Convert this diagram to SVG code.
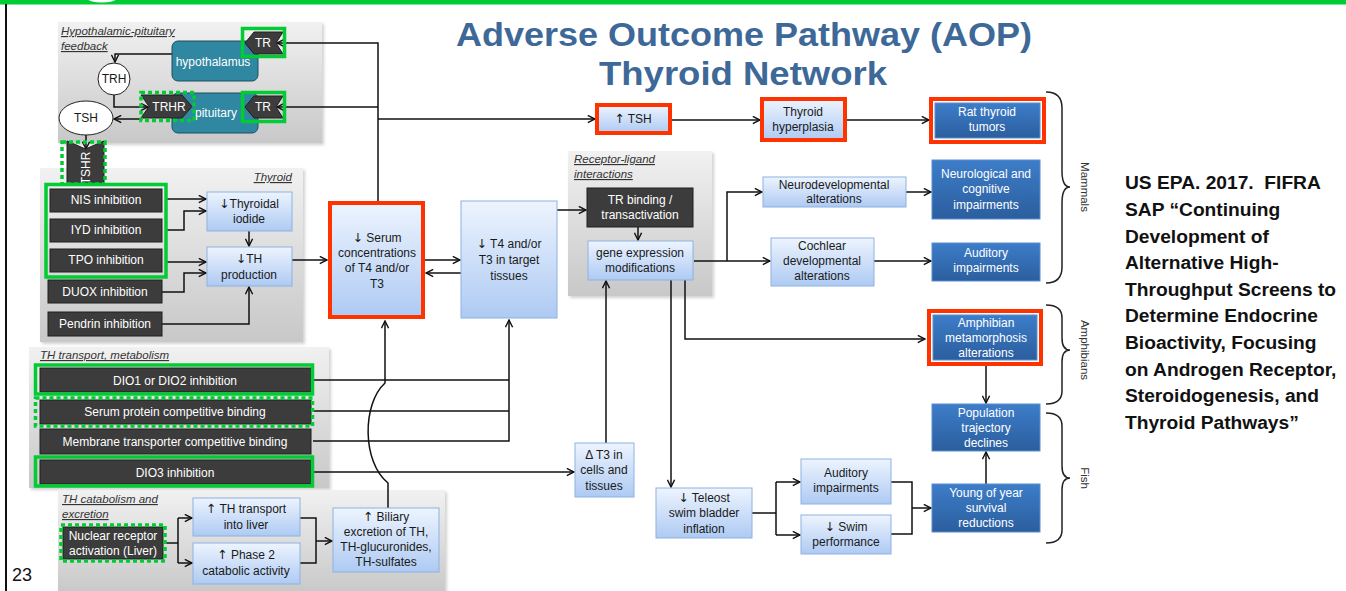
<svg xmlns="http://www.w3.org/2000/svg" width="1346" height="591" viewBox="0 0 1346 591">
  <defs>
    <linearGradient id="gLB" x1="0" y1="0" x2="0" y2="1">
      <stop offset="0" stop-color="#edf4fe"/>
      <stop offset="1" stop-color="#aecaf3"/>
    </linearGradient>
    <linearGradient id="gDB" x1="0" y1="0" x2="0" y2="1">
      <stop offset="0" stop-color="#3d7dc9"/>
      <stop offset="1" stop-color="#2b5e9e"/>
    </linearGradient>
    <linearGradient id="gPanel" x1="0" y1="0" x2="0" y2="1">
      <stop offset="0" stop-color="#f1f1f1"/>
      <stop offset="1" stop-color="#c8c8c8"/>
    </linearGradient>
    <filter id="shadow" x="-5%" y="-5%" width="115%" height="115%">
      <feDropShadow dx="2" dy="2" stdDeviation="1.5" flood-color="#000" flood-opacity="0.18"/>
    </filter>
    <marker id="ah" viewBox="0 0 10 10" refX="9" refY="5" markerWidth="9" markerHeight="9" markerUnits="userSpaceOnUse" orient="auto">
      <path d="M1,1 L9,5 L1,9" fill="none" stroke="#111" stroke-width="1.6"/>
    </marker>
    <style>
      .panel { fill: url(#gPanel); filter: url(#shadow); }
      .lb { fill: url(#gLB); stroke: #8db2e2; stroke-width: 1; }
      .db { fill: url(#gDB); stroke: #5b8ed0; stroke-width: 1; }
      .dk { fill: #3c3c3c; stroke: #1f1f1f; stroke-width: 1; }
      .teal { fill: #2f87a1; stroke: #1e4f5e; stroke-width: 1; }
      .red { fill: none; stroke: #ff3300; stroke-width: 4; }
      .grn { fill: none; stroke: #00cc33; stroke-width: 3.5; }
      .grnd { fill: none; stroke: #00cc33; stroke-width: 3.5; stroke-dasharray: 4 3; }
      .ov { fill: #ffffff; stroke: #222; stroke-width: 1; }
      text { font-family: "Liberation Sans", Arial, sans-serif; }
      .ar { font-family: "DejaVu Sans", sans-serif; font-size: 12.5px; }
      .t { font-size: 12px; fill: #1a1a1a; text-anchor: middle; }
      .tw { font-size: 12px; fill: #ffffff; text-anchor: middle; }
      .pt { font-size: 11.5px; fill: #333; font-style: italic; text-decoration: underline; }
      .c { fill: none; stroke: #111; stroke-width: 1.5; }
      .ca { fill: none; stroke: #111; stroke-width: 1.5; marker-end: url(#ah); }
      .brace { fill: none; stroke: #222; stroke-width: 1.5; }
      .grp { font-size: 11.5px; fill: #333; text-anchor: middle; }
    </style>
  </defs>

  <rect width="1346" height="591" fill="#ffffff"/>
  <!-- slide frame -->
  <rect x="0" y="0" width="1346" height="4.5" fill="#00cc33"/>
  <ellipse cx="102" cy="-1" rx="14" ry="3.5" fill="#ffffff"/>
  <line x1="6" y1="4" x2="6" y2="591" stroke="#111" stroke-width="2"/>

  <!-- title -->
  <g id="title" fill="#3d6898" font-weight="bold" font-size="33" text-anchor="middle">
    <text x="744" y="46" textLength="576" lengthAdjust="spacingAndGlyphs">Adverse Outcome Pathway (AOP)</text>
    <text x="743" y="85" textLength="288" lengthAdjust="spacingAndGlyphs">Thyroid Network</text>
  </g>

  <!-- background panels -->
  <g id="panel-hp">
    <rect class="panel" x="58" y="22" width="264" height="121"/>
    <text class="pt" x="61" y="35">Hypothalamic-pituitary</text>
    <text class="pt" x="61" y="50">feedback</text>
  </g>
  <g id="panel-thyroid">
    <rect class="panel" x="40" y="168" width="263" height="174"/>
    <text class="pt" x="292" y="181" text-anchor="end">Thyroid</text>
  </g>
  <g id="panel-transport">
    <rect class="panel" x="29" y="347" width="300" height="141"/>
    <text class="pt" x="40" y="359">TH transport, metabolism</text>
  </g>
  <g id="panel-catabolism">
    <rect class="panel" x="58" y="490" width="387" height="104"/>
    <text class="pt" x="62" y="503">TH catabolism and</text>
    <text class="pt" x="62" y="518">excretion</text>
  </g>
  <g id="panel-receptor">
    <rect class="panel" x="568" y="151" width="144" height="145"/>
    <text class="pt" x="574" y="163">Receptor-ligand</text>
    <text class="pt" x="574" y="178">interactions</text>
  </g>

  <!-- connectors -->
  <g id="connectors">
    <!-- hypothalamic-pituitary loop -->
    <path class="ca" d="M172,54 L115,54 L115,62"/>
    <path class="ca" d="M114,95 L114,107 L148,107"/>
    <path class="ca" d="M142,119 L114,119"/>
    <path class="ca" d="M86,135 L86,149"/>
    <path class="ca" d="M378,201 L378,43 L277,43"/>
    <path class="ca" d="M378,107 L277,107"/>
    <path class="ca" d="M378,119 L595,119"/>
    <!-- thyroid -->
    <path class="ca" d="M166,199 L206,199"/>
    <path class="ca" d="M166,230 L184,230 L184,211 L206,211"/>
    <path class="ca" d="M249,231 L249,246"/>
    <path class="ca" d="M166,262 L206,262"/>
    <path class="ca" d="M162,292 L184,292 L184,273 L206,273"/>
    <path class="ca" d="M162,324 L249,324 L249,287"/>
    <path class="ca" d="M292,260 L327,260"/>
    <!-- serum / tissues -->
    <path class="ca" d="M425,260 L460,260"/>
    <path class="ca" d="M461,273 L426,273"/>
    <path class="ca" d="M557,210 L586,210"/>
    <!-- transport / metabolism -->
    <path class="c" d="M313,380 L509,380"/>
    <path class="c" d="M313,411 L509,411"/>
    <path class="ca" d="M313,441 L509,441 L509,320"/>
    <path class="ca" d="M313,472 L574,472"/>
    <path class="ca" d="M388,508 L388,483 C362,462 362,404 385,383 L385,321"/>
    <!-- catabolism -->
    <path class="c" d="M165,543 L178,543 M178,518 L178,563"/>
    <path class="ca" d="M178,518 L192,518"/>
    <path class="ca" d="M178,563 L192,563"/>
    <path class="c" d="M300,518 L316,518 L316,563 L300,563"/>
    <path class="ca" d="M316,541 L332,541"/>
    <!-- TSH branch -->
    <path class="ca" d="M670,120 L760,120"/>
    <path class="ca" d="M847,120 L929,120"/>
    <!-- receptor-ligand -->
    <path class="ca" d="M638,227 L638,240"/>
    <path class="ca" d="M694,261 L770,261"/>
    <path class="ca" d="M727,261 L727,192 L762,192"/>
    <path class="ca" d="M906,192 L931,192"/>
    <path class="ca" d="M874,261 L931,261"/>
    <path class="ca" d="M606,443 L606,281"/>
    <path class="ca" d="M671,280 L671,487"/>
    <path class="ca" d="M685,280 L685,339 L925,339"/>
    <!-- amphibians / fish -->
    <path class="ca" d="M986,366 L986,403"/>
    <path class="ca" d="M986,484 L986,452"/>
    <path class="c" d="M752,513 L776,513 M776,482 L776,535"/>
    <path class="ca" d="M776,482 L800,482"/>
    <path class="ca" d="M776,535 L800,535"/>
    <path class="c" d="M891,482 L912,482 L912,534 L891,534"/>
    <path class="ca" d="M912,508 L931,508"/>
  </g>

  <!-- hypothalamic-pituitary feedback -->
  <g id="hypothalamus">
    <rect class="teal" x="172" y="41" width="86" height="40" rx="6"/>
    <text class="tw" x="213" y="66" font-size="12.5">hypothalamus</text>
  </g>
  <g id="pituitary">
    <rect class="teal" x="172" y="93" width="86" height="40" rx="6"/>
    <text class="tw" x="216" y="117" font-size="12.5">pituitary</text>
  </g>
  <g id="tr-hypothalamus">
    <path class="dk" d="M245,43 L254,32 L283,32 L276,43 L283,54 L254,54 Z"/>
    <text class="tw" x="263" y="47">TR</text>
    <rect class="grn" x="242.5" y="28.5" width="42" height="28"/>
  </g>
  <g id="tr-pituitary">
    <path class="dk" d="M245,107 L254,96 L283,96 L276,107 L283,118 L254,118 Z"/>
    <text class="tw" x="263" y="111">TR</text>
    <rect class="grn" x="242.5" y="92.5" width="42" height="29"/>
  </g>
  <g id="trhr">
    <path class="dk" d="M141,95 L182,95 L192,106.5 L182,118 L141,118 L149,106.5 Z"/>
    <text class="tw" x="169" y="111">TRHR</text>
    <rect class="grnd" x="141" y="92.5" width="53" height="28"/>
  </g>
  <g id="trh">
    <circle class="ov" cx="114" cy="79" r="16"/>
    <text class="t" x="114" y="83" font-size="11.5">TRH</text>
  </g>
  <g id="tsh">
    <ellipse class="ov" cx="86" cy="118" rx="27" ry="17"/>
    <text class="t" x="86" y="122">TSH</text>
  </g>
  <g id="tshr">
    <path class="dk" d="M67,141 L85.5,149 L104,141 L104,184 L67,184 Z"/>
    <text class="tw" transform="translate(89.5,168) rotate(-90)" font-size="11">TSHR</text>
    <rect class="grnd" x="62" y="142" width="43" height="42"/>
  </g>

  <!-- thyroid -->
  <g id="nis">
    <rect class="dk" x="50" y="189" width="112" height="23"/>
    <text class="tw" x="106" y="204">NIS inhibition</text>
  </g>
  <g id="iyd">
    <rect class="dk" x="50" y="219" width="112" height="23"/>
    <text class="tw" x="106" y="234">IYD inhibition</text>
  </g>
  <g id="tpo">
    <rect class="dk" x="50" y="249" width="112" height="23"/>
    <text class="tw" x="106" y="264">TPO inhibition</text>
  </g>
  <rect class="grn" x="46" y="184.5" width="120" height="92.5"/>
  <g id="duox">
    <rect class="dk" x="48" y="280" width="114" height="23"/>
    <text class="tw" x="105" y="296">DUOX inhibition</text>
  </g>
  <g id="pendrin">
    <rect class="dk" x="48" y="312" width="114" height="24"/>
    <text class="tw" x="105" y="328">Pendrin inhibition</text>
  </g>
  <g id="thyroidal-iodide">
    <rect class="lb" x="207" y="192" width="85" height="39"/>
    <text class="t" x="249" y="208"><tspan class="ar">↓</tspan>Thyroidal</text>
    <text class="t" x="249" y="223">iodide</text>
  </g>
  <g id="th-production">
    <rect class="lb" x="207" y="247" width="85" height="39"/>
    <text class="t" x="249" y="263"><tspan class="ar">↓</tspan>TH</text>
    <text class="t" x="249" y="279">production</text>
  </g>

  <!-- serum and tissues -->
  <g id="serum">
    <rect x="330" y="203" width="93" height="114" fill="url(#gLB)"/>
    <rect class="red" x="330" y="203" width="93" height="114"/>
    <text class="t" x="377" y="242"><tspan class="ar">↓</tspan> Serum</text>
    <text class="t" x="377" y="257">concentrations</text>
    <text class="t" x="377" y="272">of T4 and/or</text>
    <text class="t" x="377" y="288">T3</text>
  </g>
  <g id="target-tissues">
    <rect class="lb" x="461" y="201" width="96" height="117"/>
    <text class="t" x="509" y="248"><tspan class="ar">↓</tspan> T4 and/or</text>
    <text class="t" x="509" y="264">T3 in target</text>
    <text class="t" x="509" y="280">tissues</text>
  </g>

  <!-- transport and metabolism -->
  <g id="dio12">
    <rect class="dk" x="40" y="368" width="271" height="24"/>
    <text class="tw" x="175" y="385">DIO1 or DIO2 inhibition</text>
    <rect class="grn" x="35.5" y="365" width="277" height="29"/>
  </g>
  <g id="serum-protein">
    <rect class="dk" x="40" y="400" width="271" height="24"/>
    <text class="tw" x="175" y="416">Serum protein competitive binding</text>
    <rect class="grnd" x="35.5" y="398" width="277" height="28"/>
  </g>
  <g id="membrane">
    <rect class="dk" x="40" y="429" width="271" height="25"/>
    <text class="tw" x="175" y="446">Membrane transporter competitive binding</text>
  </g>
  <g id="dio3">
    <rect class="dk" x="40" y="460" width="271" height="24"/>
    <text class="tw" x="175" y="477">DIO3 inhibition</text>
    <rect class="grn" x="35.5" y="457" width="277" height="29"/>
  </g>

  <!-- catabolism and excretion -->
  <g id="nuclear-receptor">
    <rect class="dk" x="63" y="527" width="100" height="32"/>
    <text class="tw" x="113" y="540">Nuclear receptor</text>
    <text class="tw" x="113" y="555">activation (Liver)</text>
    <rect class="grnd" x="61" y="525" width="104" height="36"/>
  </g>
  <g id="th-transport-liver">
    <rect class="lb" x="193" y="498" width="107" height="38"/>
    <text class="t" x="246" y="513"><tspan class="ar">↑</tspan> TH transport</text>
    <text class="t" x="246" y="529">into liver</text>
  </g>
  <g id="phase2">
    <rect class="lb" x="193" y="543" width="107" height="41"/>
    <text class="t" x="246" y="559"><tspan class="ar">↑</tspan> Phase 2</text>
    <text class="t" x="246" y="575">catabolic activity</text>
  </g>
  <g id="biliary">
    <rect class="lb" x="333" y="508" width="106" height="64"/>
    <text class="t" x="386" y="521"><tspan class="ar">↑</tspan> Biliary</text>
    <text class="t" x="386" y="536">excretion of TH,</text>
    <text class="t" x="386" y="551">TH-glucuronides,</text>
    <text class="t" x="386" y="566">TH-sulfates</text>
  </g>

  <!-- TSH branch -->
  <g id="tsh-up">
    <rect x="597" y="105" width="73" height="28" fill="url(#gLB)"/>
    <rect class="red" x="597" y="105" width="73" height="28"/>
    <text class="t" x="633" y="123"><tspan class="ar">↑</tspan> TSH</text>
  </g>
  <g id="hyperplasia">
    <rect x="762" y="99" width="83" height="41" fill="url(#gLB)"/>
    <rect class="red" x="762" y="99" width="83" height="41"/>
    <text class="t" x="803" y="116">Thyroid</text>
    <text class="t" x="803" y="131">hyperplasia</text>
  </g>
  <g id="rat-tumors">
    <rect class="db" x="935" y="103" width="105" height="35"/>
    <rect class="red" x="931" y="99" width="113" height="43"/>
    <text class="tw" x="987" y="116">Rat thyroid</text>
    <text class="tw" x="987" y="131">tumors</text>
  </g>

  <!-- receptor-ligand interactions -->
  <g id="tr-binding">
    <rect class="dk" x="587" y="188" width="106" height="39"/>
    <text class="tw" x="640" y="204">TR binding /</text>
    <text class="tw" x="640" y="219">transactivation</text>
  </g>
  <g id="gene-expression">
    <rect class="lb" x="588" y="241" width="105" height="39"/>
    <text class="t" x="640" y="257">gene expression</text>
    <text class="t" x="640" y="272">modifications</text>
  </g>
  <g id="delta-t3">
    <rect class="lb" x="575" y="443" width="59" height="54"/>
    <text class="t" x="604" y="459">Δ T3 in</text>
    <text class="t" x="604" y="474">cells and</text>
    <text class="t" x="604" y="490">tissues</text>
  </g>

  <!-- mammals -->
  <g id="neurodevelopmental">
    <rect class="lb" x="763" y="177" width="143" height="30"/>
    <text class="t" x="834" y="189">Neurodevelopmental</text>
    <text class="t" x="834" y="203">alterations</text>
  </g>
  <g id="neurological">
    <rect class="db" x="932" y="160" width="108" height="59"/>
    <text class="tw" x="986" y="178">Neurological and</text>
    <text class="tw" x="986" y="193">cognitive</text>
    <text class="tw" x="986" y="209">impairments</text>
  </g>
  <g id="cochlear">
    <rect class="lb" x="771" y="238" width="103" height="48"/>
    <text class="t" x="822" y="250">Cochlear</text>
    <text class="t" x="822" y="265">developmental</text>
    <text class="t" x="822" y="280">alterations</text>
  </g>
  <g id="auditory-mammals">
    <rect class="db" x="932" y="243" width="108" height="38"/>
    <text class="tw" x="986" y="257">Auditory</text>
    <text class="tw" x="986" y="272">impairments</text>
  </g>

  <!-- amphibians and fish -->
  <g id="amphibian">
    <rect class="db" x="933" y="315" width="104" height="45"/>
    <rect class="red" x="929" y="311" width="112" height="53"/>
    <text class="tw" x="986" y="327">Amphibian</text>
    <text class="tw" x="986" y="342">metamorphosis</text>
    <text class="tw" x="986" y="357">alterations</text>
  </g>
  <g id="population">
    <rect class="db" x="932" y="404" width="108" height="47"/>
    <text class="tw" x="986" y="417">Population</text>
    <text class="tw" x="986" y="432">trajectory</text>
    <text class="tw" x="986" y="447">declines</text>
  </g>
  <g id="young-of-year">
    <rect class="db" x="932" y="484" width="108" height="48"/>
    <text class="tw" x="986" y="497">Young of year</text>
    <text class="tw" x="986" y="512">survival</text>
    <text class="tw" x="986" y="527">reductions</text>
  </g>
  <g id="teleost">
    <rect class="lb" x="656" y="488" width="96" height="50"/>
    <text class="t" x="704" y="502"><tspan class="ar">↓</tspan> Teleost</text>
    <text class="t" x="704" y="517">swim bladder</text>
    <text class="t" x="704" y="533">inflation</text>
  </g>
  <g id="auditory-fish">
    <rect class="lb" x="801" y="459" width="90" height="45"/>
    <text class="t" x="846" y="477">Auditory</text>
    <text class="t" x="846" y="492">impairments</text>
  </g>
  <g id="swim">
    <rect class="lb" x="801" y="515" width="90" height="39"/>
    <text class="t" x="846" y="531"><tspan class="ar">↓</tspan> Swim</text>
    <text class="t" x="846" y="546">performance</text>
  </g>

  <!-- taxon braces -->
  <g id="taxa">
    <path class="brace" d="M1046,92 Q1062,92 1062,108 L1062,171 Q1062,187 1070,187 Q1062,187 1062,203 L1062,267 Q1062,283 1046,283"/>
    <path class="brace" d="M1046,305 Q1062,305 1062,318 L1062,338 Q1062,350 1070,350 Q1062,350 1062,362 L1062,391 Q1062,404 1046,404"/>
    <path class="brace" d="M1046,413 Q1062,413 1062,426 L1062,466 Q1062,478 1070,478 Q1062,478 1062,490 L1062,530 Q1062,543 1046,543"/>
    <text class="grp" transform="translate(1081,187) rotate(90)">Mammals</text>
    <text class="grp" transform="translate(1081,350) rotate(90)">Amphibians</text>
    <text class="grp" transform="translate(1081,478) rotate(90)">Fish</text>
  </g>

  <!-- reference -->
  <g id="citation" font-weight="bold" font-size="19.2" fill="#111">
    <text x="1125" y="189" xml:space="preserve">US EPA. 2017.  FIFRA</text>
    <text x="1125" y="216">SAP “Continuing</text>
    <text x="1125" y="243">Development of</text>
    <text x="1125" y="269">Alternative High-</text>
    <text x="1125" y="296">Throughput Screens to</text>
    <text x="1125" y="322">Determine Endocrine</text>
    <text x="1125" y="349">Bioactivity, Focusing</text>
    <text x="1125" y="376">on Androgen Receptor,</text>
    <text x="1125" y="402">Steroidogenesis, and</text>
    <text x="1125" y="429">Thyroid Pathways”</text>
  </g>

  <text x="12" y="581" font-size="18" fill="#111">23</text>
</svg>
